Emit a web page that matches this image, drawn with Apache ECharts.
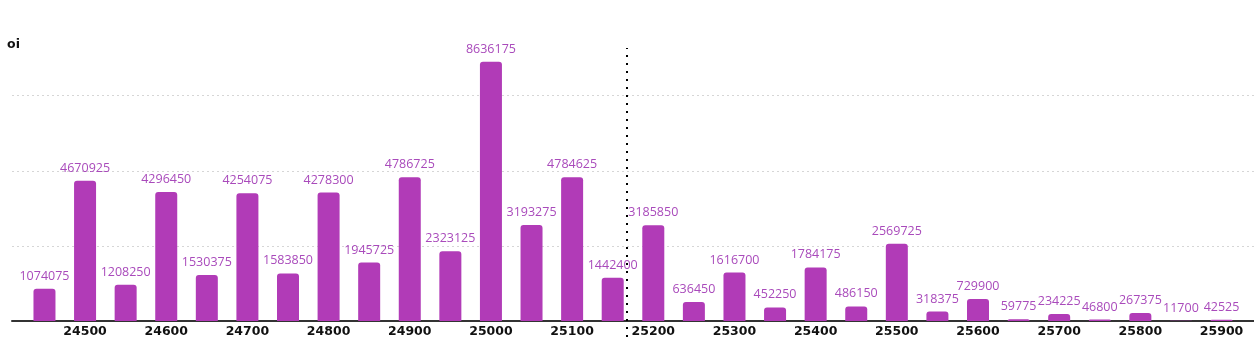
<!DOCTYPE html>
<html>
<head>
<meta charset="utf-8">
<script src="https://cdn.jsdelivr.net/npm/echarts@6/dist/echarts.min.js"></script>
<style>
html,body{margin:0;padding:0;background:#fff;}
#chart{width:1254px;height:346px;}
</style>
</head>
<body>
<div id="chart"></div>
<script>
const strikes = [24450,24500,24550,24600,24650,24700,24750,24800,24850,24900,24950,25000,25050,25100,25150,25200,25250,25300,25350,25400,25450,25500,25550,25600,25650,25700,25750,25800,25850,25900];
const oiValues = [1074075,4670925,1208250,4296450,1530375,4254075,1583850,4278300,1945725,4786725,2323125,8636175,3193275,4784625,1442400,3185850,636450,1616700,452250,1784175,486150,2569725,318375,729900,59775,234225,46800,267375,11700,42525];
const tickLabels = [24500,24600,24700,24800,24900,25000,25100,25200,25300,25400,25500,25600,25700,25800,25900];
const spotPrice = 25167;
const xMin = 24410, xMax = 25940;
const yMax = 9000000, yStep = 2500000;

const chart = echarts.init(document.getElementById('chart'));
chart.setOption({
  animation: false,
  grid: [
    {left: 12, right: 0, top: 50.7, bottom: 25, containLabel: false},
    {left: 12, right: 0, top: 48, bottom: 9, containLabel: false}
  ],
  xAxis: [{
    type: 'value', min: xMin, max: xMax, gridIndex: 0,
    axisLine: {show: true, onZero: true, lineStyle: {color: '#333', width: 2}},
    axisTick: {show: false},
    splitLine: {show: false},
    axisLabel: {
      customValues: tickLabels, margin: 4,
      color: '#111', fontFamily: 'DejaVu Sans', fontWeight: 'bold', fontSize: 12.5,
      formatter: v => String(v)
    }
  }, {
    type: 'value', min: xMin, max: xMax, gridIndex: 1, show: false
  }],
  yAxis: [{
    type: 'value', min: 0, max: yMax, interval: yStep, gridIndex: 0,
    name: 'oi', nameLocation: 'end', nameGap: -1,
    nameTextStyle: {color: '#111', fontFamily: 'DejaVu Sans', fontWeight: 'bold', fontSize: 12.5, align: 'center', padding: [0, 0, 0, 3]},
    axisLine: {show: false}, axisTick: {show: false}, axisLabel: {show: false},
    splitLine: {show: true, showMinLine: false, showMaxLine: false, lineStyle: {color: '#d6d6d6', type: [2, 3], width: 1}}
  }, {
    type: 'value', min: 0, max: 1, gridIndex: 1, show: false
  }],
  series: [{
    type: 'bar',
    xAxisIndex: 0, yAxisIndex: 0,
    data: strikes.map((s, i) => [s, oiValues[i]]),
    barWidth: 22,
    itemStyle: {color: '#b13bb7', borderRadius: [3, 3, 0, 0]},
    label: {
      show: true, position: 'top', distance: 6,
      color: '#a94abb', fontFamily: 'Open Sans', fontSize: 12.5,
      formatter: p => String(p.value[1])
    }
  }, {
    type: 'line',
    xAxisIndex: 1, yAxisIndex: 1,
    data: [],
    silent: true,
    markLine: {
      silent: true, symbol: ['none', 'none'], animation: false,
      label: {show: false},
      lineStyle: {color: '#000', type: [2, 6], width: 2, cap: 'butt'},
      data: [{xAxis: spotPrice}]
    }
  }]
});
</script>
</body>
</html>
